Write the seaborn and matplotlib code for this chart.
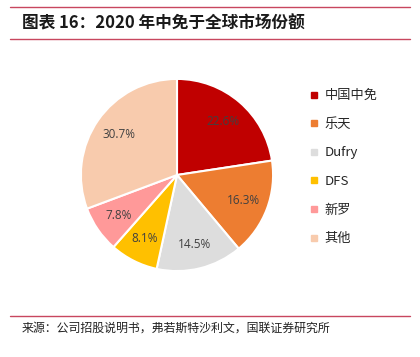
import matplotlib
matplotlib.use('Agg')
import matplotlib.pyplot as plt
import seaborn as sns
from matplotlib.lines import Line2D

sns.set_theme(style='white')
plt.rcParams['font.family'] = ['Noto Sans CJK SC', 'DejaVu Sans']

# 数据
labels = ['中国中免', '乐天', 'Dufry', 'DFS', '新罗', '其他']
shares = [22.6, 16.3, 14.5, 8.1, 7.8, 30.7]
colors = sns.color_palette(['#C00000', '#ED7D31', '#DDDDDD', '#FFC000', '#FF9999', '#F8CBAD'])

fig = plt.figure(figsize=(4.2, 3.57), dpi=100)

# 标题与分隔线
line_color = '#C8475F'
for y in [7, 39, 316]:
    fig.add_artist(Line2D([10/420, 410/420], [1 - y/357, 1 - y/357], color=line_color, lw=1))
fig.text(22/420, 1 - 24/357, '图表 16：2020 年中免于全球市场份额', fontsize=12,
         fontweight='bold', style='italic', va='center', ha='left', color='#1a1a1a')
fig.text(22/420, 1 - 328/357, '来源：公司招股说明书，弗若斯特沙利文，国联证券研究所',
         fontsize=8.6, va='center', ha='left', color='#222222')

# 饼图
ax = fig.add_axes([(177 - 98) / 420, 1 - (175 + 98) / 357, 196 / 420, 196 / 357])
wedges, texts, autotexts = ax.pie(
    shares, colors=colors, startangle=90, counterclock=False,
    autopct='%.1f%%', pctdistance=0.74,
    wedgeprops=dict(edgecolor='white', linewidth=1.5),
    textprops=dict(fontsize=8.5, color='#404040', family=['Open Sans', 'DejaVu Sans']))
ax.set_xlim(-1.02, 1.02)
ax.set_ylim(-1.02, 1.02)
ax.set_aspect('equal')
ax.axis('off')

# 图例
handles = [Line2D([], [], marker='s', linestyle='', markersize=4, color=c) for c in colors]
leg = fig.legend(handles, labels, loc='upper left', bbox_to_anchor=(305/420, 1 - 84/357),
                 frameon=False, fontsize=9.5, handlelength=0.6, handletextpad=0.5,
                 labelspacing=1.18, borderaxespad=0)

fig.savefig('out.png', dpi=100)
